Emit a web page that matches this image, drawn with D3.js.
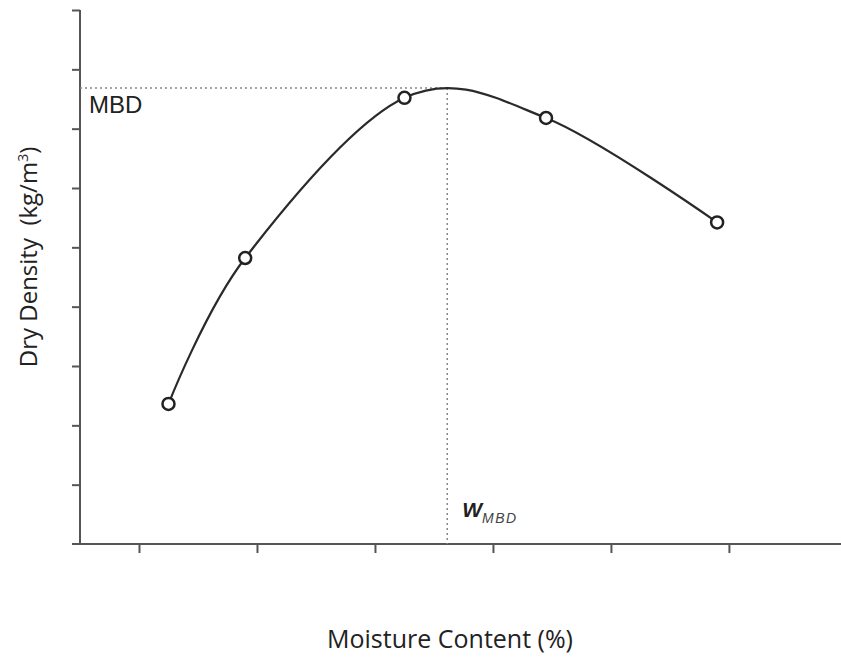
<!DOCTYPE html>
<html>
<head>
<meta charset="utf-8">
<script src="https://cdn.jsdelivr.net/npm/d3@7"></script>
<style>
  html, body { margin: 0; padding: 0; background: #fff; }
  svg { display: block; }
  text { white-space: pre; }
</style>
</head>
<body>
<svg id="chart" width="841" height="657"></svg>
<script>
// Compaction test: moisture content (%) vs dry density (kg/m3)
const moisture = [6.5, 7.8, 10.5, 12.9, 15.8];
const density = [1618, 1741, 1876, 1859, 1771];

// Unlabelled tick positions
const xTicks = [6, 8, 10, 12, 14, 16];
const yTicks = [1550, 1600, 1650, 1700, 1750, 1800, 1850, 1900, 1950];

const svg = d3.select("#chart");
const ox = 80, oy = 544;

const x = d3.scaleLinear().domain([5, 17.9]).range([ox, 841]);
const y = d3.scaleLinear().domain([1500, 1950]).range([oy, 10]);

const axisColor = "#555";

// y axis
const yAxis = d3.axisLeft(y).tickValues(yTicks).tickSize(8).tickFormat("");
const gy = svg.append("g").attr("transform", `translate(${ox},0)`).call(yAxis);
gy.select(".domain").attr("d", `M0,${oy}V${y(1950)}`);
gy.selectAll("path, line").attr("stroke", axisColor).attr("stroke-width", 2);

// x axis (ticks hang below)
const xAxis = d3.axisBottom(x).tickValues(xTicks).tickSize(9).tickFormat("");
const gx = svg.append("g").attr("transform", `translate(0,${oy})`).call(xAxis);
gx.select(".domain").attr("d", `M${ox - 8},0H841`);
gx.selectAll("path, line").attr("stroke", axisColor).attr("stroke-width", 2);

const guides = svg.append("g");

// compaction curve: smooth spline through the test points
const pts = moisture.map((m, i) => [m, density[i]]);
const line = d3.line().x(d => x(d[0])).y(d => y(d[1])).curve(d3.curveCardinal.tension(0));
const curve = svg.append("path")
  .attr("d", line(pts))
  .attr("fill", "none").attr("stroke", "#2a2a2a").attr("stroke-width", 2.2);

// locate the top of the curve (maximum dry density)
const node = curve.node();
const len = node.getTotalLength();
let peak = node.getPointAtLength(0);
for (let s = 0; s <= len; s += 0.5) {
  const p = node.getPointAtLength(s);
  if (p.y < peak.y) peak = p;
}

// guide lines to the optimum
guides.append("line")
  .attr("x1", ox).attr("x2", peak.x)
  .attr("y1", peak.y).attr("y2", peak.y)
  .attr("stroke", "#888").attr("stroke-width", 1.5).attr("stroke-dasharray", "2,3");
guides.append("line")
  .attr("x1", peak.x).attr("x2", peak.x)
  .attr("y1", peak.y).attr("y2", oy)
  .attr("stroke", "#888").attr("stroke-width", 1.5).attr("stroke-dasharray", "2,3");

// test points
svg.selectAll("circle.pt").data(moisture).join("circle")
  .attr("class", "pt")
  .attr("cx", d => x(d))
  .attr("cy", (d, i) => y(density[i]))
  .attr("r", 6)
  .attr("fill", "#fff").attr("stroke", "#222").attr("stroke-width", 2.5);

// labels
svg.append("text")
  .attr("x", 89).attr("y", peak.y + 25)
  .attr("font-family", "Liberation Sans, Arial, sans-serif")
  .attr("font-size", 24).attr("fill", "#222")
  .text("MBD");

const wl = svg.append("text")
  .attr("x", peak.x + 15).attr("y", 517)
  .attr("font-family", "Liberation Sans, Arial, sans-serif")
  .attr("font-style", "italic").attr("fill", "#222");
wl.append("tspan").attr("font-size", 21).attr("font-weight", "bold").text("W");
wl.append("tspan").attr("font-size", 14).attr("dy", 6).attr("letter-spacing", 1.5).attr("fill", "#444").text("MBD");

svg.append("text")
  .attr("x", 450).attr("y", 648)
  .attr("text-anchor", "middle")
  .attr("font-family", "Open Sans, sans-serif")
  .attr("font-size", 25).attr("fill", "#222")
  .text("Moisture Content (%)");

const yl = svg.append("text")
  .attr("transform", "translate(37,257) rotate(-90)")
  .attr("text-anchor", "middle")
  .attr("font-family", "Open Sans, sans-serif")
  .attr("font-size", 24).attr("fill", "#222");
yl.append("tspan").text("Dry Density  (kg/m");
yl.append("tspan").attr("font-size", 14).attr("dy", -9).text("3");
yl.append("tspan").attr("dy", 9).text(")");
</script>
</body>
</html>
